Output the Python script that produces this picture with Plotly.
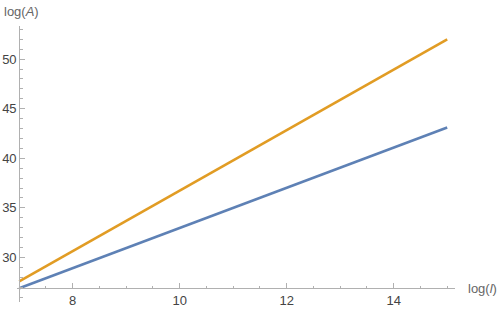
import plotly.graph_objects as go

# Data
log_l = [7, 15]
series_blue = [26.9, 43.1]
series_orange = [27.6, 52.0]
x_ticks = [8, 10, 12, 14]
y_ticks = [30, 35, 40, 45, 50]

W, H = 498, 312
FONT = "Liberation Sans, Arial, sans-serif"
AX = "#b0b0b0"

# pixel geometry (from reference)
x_dom_px = (17.3, 455.0)
y_dom_px = (26.0, 302.0)   # top, bottom
x_range = [7 + (x_dom_px[0] - 19.2) / 53.5, 7 + (x_dom_px[1] - 19.2) / 53.5]
y_range = [30 + (257.5 - y_dom_px[1]) / 9.92, 30 + (257.5 - y_dom_px[0]) / 9.92]
x_domain = [x_dom_px[0] / W, x_dom_px[1] / W]
y_domain = [1 - y_dom_px[1] / H, 1 - y_dom_px[0] / H]

x_cross, y_cross = 7, 26.9
xpos = x_domain[0] + (x_cross - x_range[0]) / (x_range[1] - x_range[0]) * (x_domain[1] - x_domain[0])
ypos = y_domain[0] + (y_cross - y_range[0]) / (y_range[1] - y_range[0]) * (y_domain[1] - y_domain[0])

fig = go.Figure()
fig.add_trace(go.Scatter(x=log_l, y=series_blue, mode="lines",
                         line=dict(color="#5E81B5", width=2.6), showlegend=False))
fig.add_trace(go.Scatter(x=log_l, y=series_orange, mode="lines",
                         line=dict(color="#E19C24", width=2.6), showlegend=False))

fig.update_layout(
    width=W, height=H,
    margin=dict(l=0, r=0, t=0, b=0),
    paper_bgcolor="white", plot_bgcolor="white",
    font=dict(family=FONT, size=13, color="#555555"),
    xaxis=dict(range=x_range, domain=x_domain, anchor="free", position=ypos,
               showgrid=False, zeroline=False, showline=True, linecolor=AX, linewidth=1,
               tickvals=x_ticks, ticks="inside", ticklen=5, tickcolor=AX, tickwidth=1,
               minor=dict(dtick=0.5, tick0=0, ticks="inside", ticklen=2.7, tickcolor=AX, tickwidth=1),
               tickfont=dict(family=FONT, size=13, color="#444444"), automargin=False),
    yaxis=dict(range=y_range, domain=y_domain, anchor="free", position=xpos,
               showgrid=False, zeroline=False, showline=True, linecolor=AX, linewidth=1,
               tickvals=y_ticks, ticks="inside", ticklen=5, tickcolor=AX, tickwidth=1,
               minor=dict(dtick=1, tick0=0, ticks="inside", ticklen=2.7, tickcolor=AX, tickwidth=1),
               tickfont=dict(family=FONT, size=13, color="#444444"), automargin=False),
    annotations=[
        dict(text="log(<i>A</i>)", xref="paper", yref="paper", x=2 / W, y=1 - 12 / H,
             xanchor="left", yanchor="middle", showarrow=False,
             font=dict(family=FONT, size=13, color="#666666")),
        dict(text="log(<i>l</i>)", xref="paper", yref="paper", x=466 / W, y=1 - 288 / H,
             xanchor="left", yanchor="middle", showarrow=False,
             font=dict(family=FONT, size=13, color="#666666")),
    ],
)

fig.write_html("out.html", config={"displayModeBar": False},
               post_script="document.body.style.margin='0';document.body.style.padding='0';")
